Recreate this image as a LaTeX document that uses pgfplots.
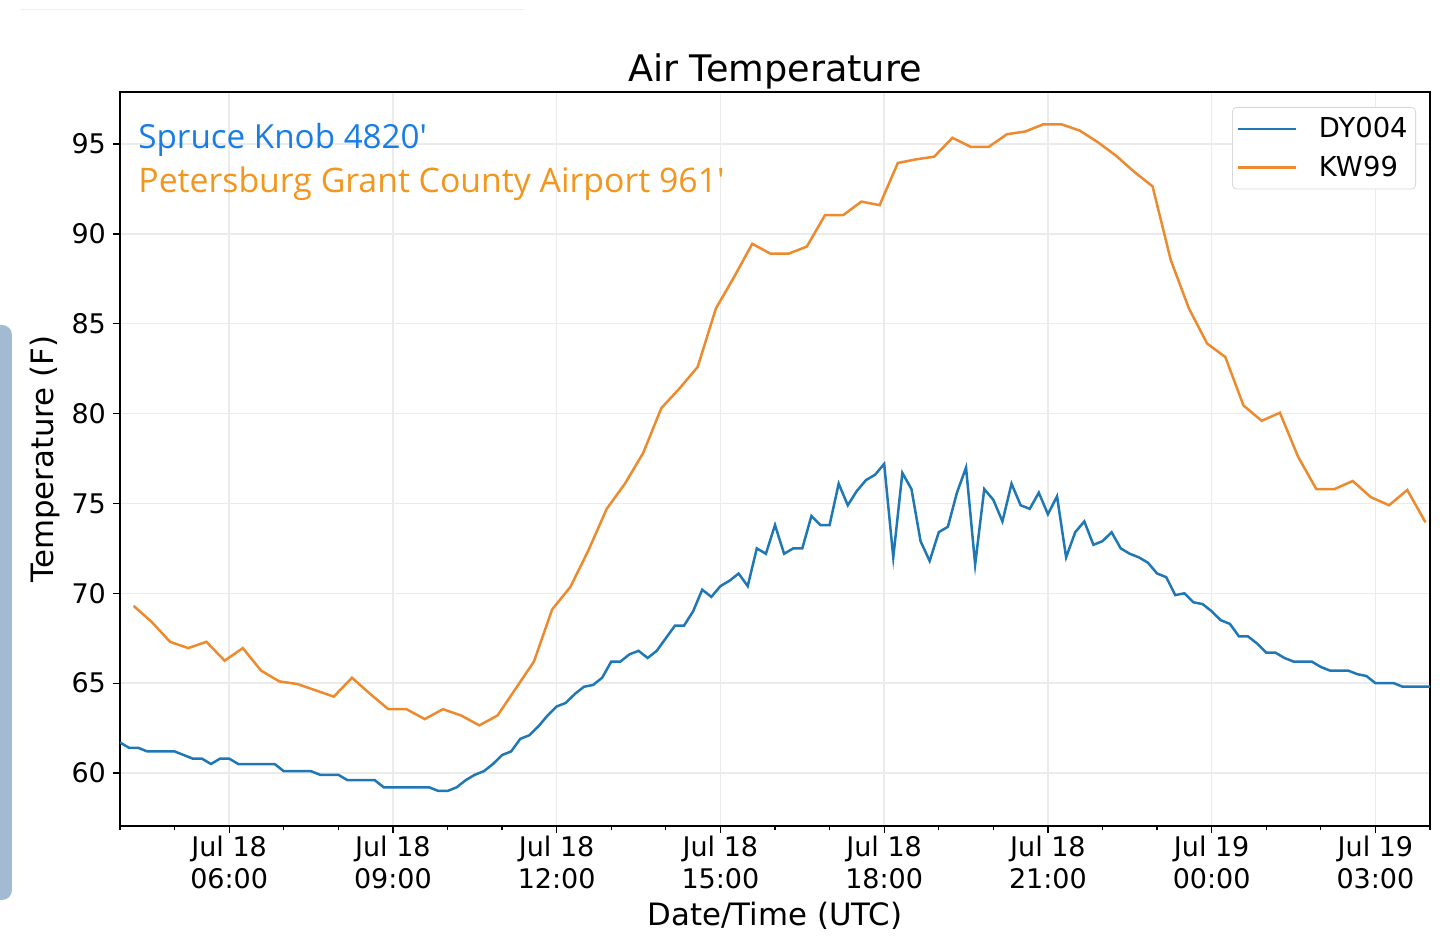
\documentclass[border=0pt]{standalone}
\usepackage{pgfplots}
\pgfplotsset{compat=1.18}
\usepackage{fontspec}
\setmainfont{DejaVu Sans}
\newfontfamily\annfont{Open Sans}
\definecolor{tabblue}{RGB}{31,119,180}
\definecolor{taborange}{RGB}{236,138,45}
\definecolor{annblue}{RGB}{26,125,230}
\definecolor{annorange}{RGB}{242,150,30}
\definecolor{sidebar}{RGB}{162,186,210}

\pgfplotstableread{
t T
240 61.7
250 61.4
260 61.4
270 61.2
280 61.2
290 61.2
300 61.2
310 61.0
320 60.8
330 60.8
340 60.5
350 60.8
360 60.8
370 60.5
380 60.5
390 60.5
400 60.5
410 60.5
420 60.1
430 60.1
440 60.1
450 60.1
460 59.9
470 59.9
480 59.9
490 59.6
500 59.6
510 59.6
520 59.6
530 59.2
540 59.2
550 59.2
560 59.2
570 59.2
580 59.2
590 59.0
600 59.0
610 59.2
620 59.6
630 59.9
640 60.1
650 60.5
660 61.0
670 61.2
680 61.9
690 62.1
700 62.6
710 63.2
720 63.7
730 63.9
740 64.4
750 64.8
760 64.9
770 65.3
780 66.2
790 66.2
800 66.6
810 66.8
820 66.4
830 66.8
840 67.5
850 68.2
860 68.2
870 69.0
880 70.2
890 69.8
900 70.4
910 70.7
920 71.1
930 70.4
940 72.5
950 72.2
960 73.8
970 72.2
980 72.5
990 72.5
1000 74.3
1010 73.8
1020 73.8
1030 76.1
1040 74.9
1050 75.7
1060 76.3
1070 76.6
1080 77.2
1090 72.0
1100 76.7
1110 75.8
1120 72.9
1130 71.8
1140 73.4
1150 73.7
1160 75.6
1170 77.0
1180 71.6
1190 75.8
1200 75.2
1210 74.0
1220 76.1
1230 74.9
1240 74.7
1250 75.6
1260 74.4
1270 75.4
1280 72.0
1290 73.4
1300 74.0
1310 72.7
1320 72.9
1330 73.4
1340 72.5
1350 72.2
1360 72.0
1370 71.7
1380 71.1
1390 70.9
1400 69.9
1410 70.0
1420 69.5
1430 69.4
1440 69.0
1450 68.5
1460 68.3
1470 67.6
1480 67.6
1490 67.2
1500 66.7
1510 66.7
1520 66.4
1530 66.2
1540 66.2
1550 66.2
1560 65.9
1570 65.7
1580 65.7
1590 65.7
1600 65.5
1610 65.4
1620 65.0
1630 65.0
1640 65.0
1650 64.8
1660 64.8
1670 64.8
1680 64.8
}\dyoo

\pgfplotstableread{
t T
255 69.3
275 68.4
295 67.3
315 66.95
335 67.3
355 66.25
375 66.95
395 65.7
415 65.1
435 64.95
455 64.6
475 64.25
495 65.3
515 64.4
535 63.55
555 63.55
575 63.0
595 63.55
615 63.2
635 62.65
655 63.2
675 64.7
695 66.2
715 69.1
735 70.35
755 72.4
775 74.7
795 76.1
815 77.8
835 80.3
855 81.4
875 82.6
895 85.85
915 87.6
935 89.45
955 88.9
975 88.9
995 89.3
1015 91.05
1035 91.05
1055 91.8
1075 91.6
1095 93.95
1115 94.15
1135 94.3
1155 95.35
1175 94.85
1195 94.85
1215 95.55
1235 95.7
1255 96.1
1275 96.1
1295 95.75
1315 95.1
1335 94.35
1355 93.45
1375 92.65
1395 88.55
1415 85.85
1435 83.9
1455 83.15
1475 80.45
1495 79.6
1515 80.05
1535 77.6
1555 75.8
1575 75.8
1595 76.25
1615 75.35
1635 74.9
1655 75.75
1675 73.95
}\kwnn

\begin{document}
\begin{tikzpicture}
\begin{axis}[
  at={(0,0)}, anchor=south west,
  scale only axis, width=655pt, height=367pt,
  xmin=240, xmax=1680, ymin=57.05, ymax=97.9,
  xtick={360,540,720,900,1080,1260,1440,1620},
  xticklabels={Jul 18\\06:00,Jul 18\\09:00,Jul 18\\12:00,Jul 18\\15:00,Jul 18\\18:00,Jul 18\\21:00,Jul 19\\00:00,Jul 19\\03:00},
  minor xtick={240,300,...,1680},
  ytick={60,65,...,95},
  tick align=outside, tick pos=left,
  major tick length=3.5pt, minor tick length=2pt,
  tick style={black, line width=0.6pt},
  grid=major, major grid style={draw=black!8, line width=0.7pt},
  axis line style={line width=0.75pt},
  /pgf/number format/assume math mode=true,
  ticklabel style={font=\fontsize{13.5}{16}\selectfont},
  xticklabel style={align=center, yshift=2pt},
  title={Air Temperature},
  title style={at={(axis description cs:0.5,1)}, anchor=base, yshift=-1pt, font=\fontsize{18.3}{22}\selectfont},
  xlabel={Date/Time (UTC)},
  xlabel style={at={(axis description cs:0.5,-0.1362)}, anchor=base, font=\fontsize{15.4}{18}\selectfont},
  ylabel={Temperature (F)},
  ylabel style={at={(axis description cs:-0.0573,0.5)}, anchor=center, font=\fontsize{15.4}{18}\selectfont},
  legend cell align=left,
  legend style={at={(1,1)}, anchor=north east, xshift=-7pt, yshift=-7.5pt,
    draw=black!15, rounded corners=2pt, font=\fontsize{13.7}{16}\selectfont,
    inner xsep=2pt, inner ysep=3pt, row sep=3.5pt},
  legend image code/.code={\draw[#1] (0pt,0pt) -- (29pt,0pt);},
]
\addplot[tabblue, line width=1.25pt] table[x=t,y=T] {\dyoo};
\addlegendentry{\hspace{9pt}DY004}
\addplot[taborange, line width=1.25pt] table[x=t,y=T] {\kwnn};
\addlegendentry{\hspace{9pt}KW99}
\node[anchor=base west, font=\annfont\fontsize{16.6}{18}\selectfont, text=annblue, inner sep=0pt] at (axis cs:259.8,94.78) {Spruce Knob 4820'};
\node[anchor=base west, font=\annfont\fontsize{16.9}{18}\selectfont, text=annorange, inner sep=0pt] at (axis cs:259.8,92.33) {Petersburg Grant County Airport 961'};
\end{axis}
\fill[sidebar, rounded corners=5pt] (-70pt,-37pt) rectangle (-54pt,250.5pt);
\draw[black!6, line width=0.5pt] (-50pt,408pt) -- (202.5pt,408pt);
\pgfresetboundingbox
\useasboundingbox (-60pt,-63pt) rectangle (660pt,413pt);
\end{tikzpicture}
\end{document}
